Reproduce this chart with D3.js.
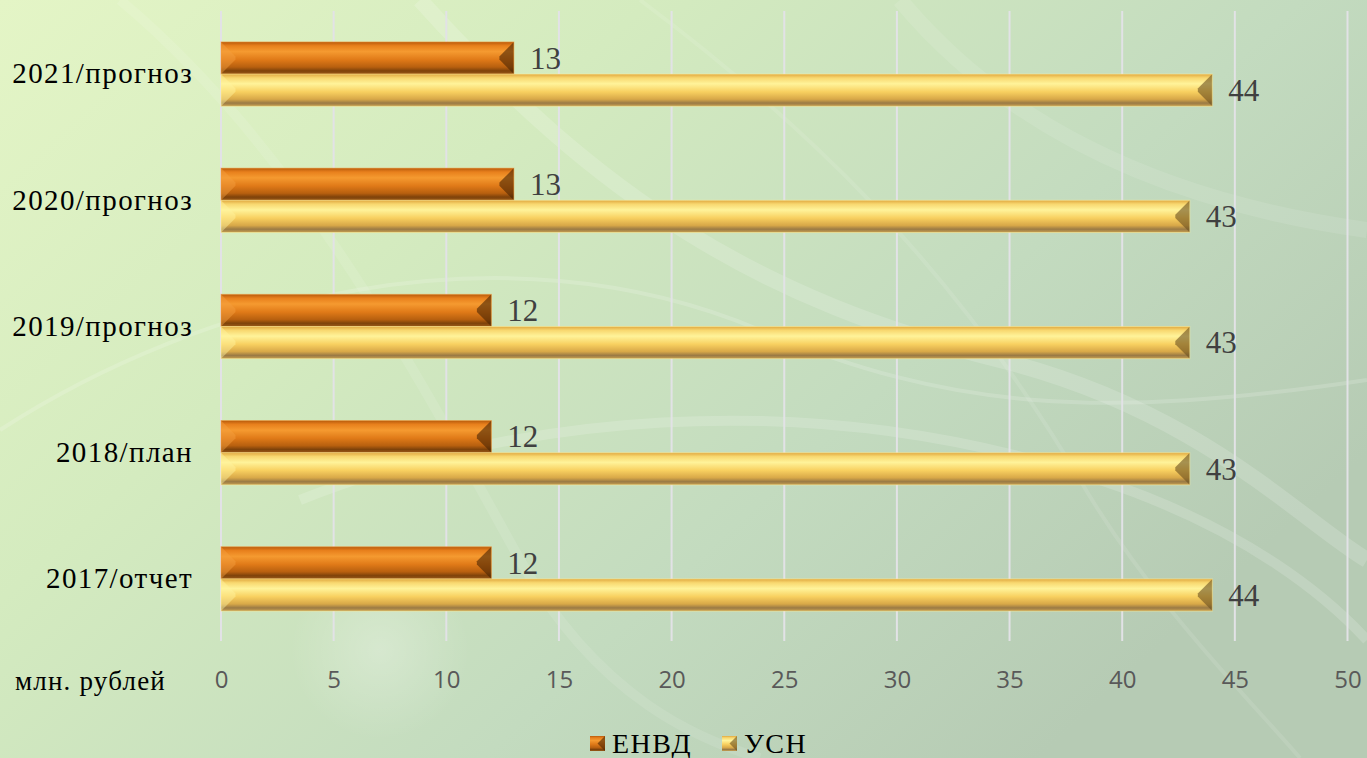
<!DOCTYPE html>
<html>
<head>
<meta charset="utf-8">
<script src="https://cdn.jsdelivr.net/npm/d3@7"></script>
<style>
  body { margin: 0; overflow: hidden; }
  svg { display: block; }
</style>
</head>
<body>
<div id="chart"></div>
<script>
// data
const categories = ["2017/отчет", "2018/план", "2019/прогноз", "2020/прогноз", "2021/прогноз"];
const seriesNames = ["ЕНВД", "УСН"];
const envd = [12, 12, 12, 13, 13];
const usn = [44, 43, 43, 43, 44];
const xTicks = [0, 5, 10, 15, 20, 25, 30, 35, 40, 45, 50];
const unitLabel = "млн. рублей";

const W = 1367, H = 758;
const margin = {top: 11, right: 20, bottom: 117, left: 221};
const SERIF = "'Liberation Serif', 'Times New Roman', Tinos, 'DejaVu Serif', 'Noto Serif', FreeSerif, serif";

const svg = d3.select("#chart").append("svg")
  .attr("width", W)
  .attr("height", H);

const defs = svg.append("defs");

//background
let bg = defs.append("linearGradient").attr("id", "bg")
  .attr("x1", "0").attr("y1", "0").attr("x2", "1").attr("y2", "0.6");
bg.append("stop").attr("offset", "0").attr("stop-color", "#e4f5c6");
bg.append("stop").attr("offset", "0.35").attr("stop-color", "#d4ebbf");
bg.append("stop").attr("offset", "0.7").attr("stop-color", "#c3dbbf");
bg.append("stop").attr("offset", "1").attr("stop-color", "#b6cbb4");

let glow = defs.append("radialGradient").attr("id", "glowSpot");
glow.append("stop").attr("offset", "0").attr("stop-color", "#ffffff").attr("stop-opacity", 0.25);
glow.append("stop").attr("offset", "1").attr("stop-color", "#ffffff").attr("stop-opacity", 0);

// bar gradients (vertical shading for the bevelled look)
function barGradient(id, stops) {
  let g = defs.append("linearGradient").attr("id", id)
    .attr("x1", 0).attr("y1", 0).attr("x2", 0).attr("y2", 1);
  stops.forEach(s => g.append("stop").attr("offset", s[0]).attr("stop-color", s[1]));
}
barGradient("gEnvd", [[0, "#b85a0c"], [0.12, "#e8801c"], [0.3, "#f59a30"], [0.55, "#e07a18"], [0.78, "#b8600f"], [0.9, "#7e420a"], [1, "#9a5a18"]]);
barGradient("gUsn", [[0, "#e0a840"], [0.12, "#f8d870"], [0.3, "#fff39a"], [0.55, "#f8d060"], [0.78, "#d8a848"], [0.9, "#9a7a45"], [1, "#c8a050"]]);

svg.append("rect").attr("width", W).attr("height", H).attr("fill", "url(#bg)");
svg.append("circle").attr("cx", 380).attr("cy", 650).attr("r", 90).attr("fill", "url(#glowSpot)");

// decorative swirls in the background
const swirls = [
  "M 0 430 C 200 300 500 220 760 330 C 950 410 1100 420 1367 380",
  "M 120 0 C 300 150 420 380 520 560 C 600 700 700 740 760 758",
  "M 420 0 C 600 200 760 300 1000 360 C 1200 410 1300 520 1367 560",
  "M 640 0 C 800 120 950 260 1080 480 C 1150 600 1250 700 1300 758",
  "M 300 500 C 500 420 800 380 1100 480 C 1250 530 1330 600 1367 640",
  "M 900 0 C 1000 120 1150 200 1367 230"
];
svg.append("g").selectAll("path")
  .data(swirls)
  .enter().append("path")
  .attr("d", d => d)
  .attr("fill", "none")
  .attr("stroke", "#ffffff")
  .attr("stroke-opacity", (d, i) => i % 2 ? 0.1 : 0.16)
  .attr("stroke-width", (d, i) => 4 + (i % 3) * 6);

const x = d3.scaleLinear().domain([0, 50]).range([0, 1126.5]);
const y = d3.scaleBand().domain(categories.slice().reverse()).range([0, 631]).paddingInner(0.49).paddingOuter(0.245);
const ySub = d3.scaleBand().domain(seriesNames).range([0, y.bandwidth()]);

const g = svg.append("g").attr("transform", "translate(" + margin.left + "," + margin.top + ")");

// gridlines
g.append("g").selectAll("line")
  .data(xTicks)
  .enter().append("line")
  .attr("x1", d => x(d)).attr("x2", d => x(d))
  .attr("y1", 0).attr("y2", 630)
  .attr("stroke", "#e2e2e6")
  .attr("stroke-width", 2);

// x axis tick labels
const xAxis = g.append("g")
  .attr("transform", "translate(0,660)")
  .call(d3.axisBottom(x).tickValues(xTicks).tickSize(0).tickPadding(0));
xAxis.select(".domain").remove();
xAxis.selectAll("text")
  .attr("fill", "#595959")
  .style("font-family", "'Open Sans', sans-serif")
  .style("font-size", "24px");

svg.append("text")
  .attr("x", 15).attr("y", 690)
  .style("font-family", SERIF)
  .style("font-size", "27px")
  .style("letter-spacing", "1.2px")
  .attr("fill", "#000")
  .text(unitLabel);

// category labels
const yAxis = g.append("g")
  .call(d3.axisLeft(y).tickSize(0).tickPadding(28));
yAxis.select(".domain").remove();
yAxis.selectAll("text")
  .attr("fill", "#000")
  .style("font-family", SERIF)
  .style("font-size", "29px")
  .style("letter-spacing", "1.4px");

const rows = categories.map((c, i) => ({cat: c, values: [
  {name: seriesNames[0], value: envd[i], fill: "url(#gEnvd)", light: "#f5a040", dark: "#4a2404"},
  {name: seriesNames[1], value: usn[i], fill: "url(#gUsn)", light: "#fff3a0", dark: "#6a5020"}
]}));

const bw = ySub.bandwidth();
const bev = bw * 0.45;

const barG = g.selectAll(".cat")
  .data(rows)
  .enter().append("g")
  .attr("class", "cat")
  .attr("transform", d => "translate(0," + y(d.cat) + ")");

const bar = barG.selectAll(".bar")
  .data(d => d.values)
  .enter().append("g")
  .attr("class", "bar")
  .attr("transform", d => "translate(0," + ySub(d.name) + ")");

bar.append("rect")
  .attr("x", 0).attr("y", 0)
  .attr("width", d => x(d.value))
  .attr("height", bw)
  .attr("fill", d => d.fill);

// left bevel
bar.append("path")
  .attr("d", "M0,0 L" + bev + "," + bev + " L" + bev + "," + (bw - bev) + " L0," + bw + "Z")
  .attr("fill", d => d.light)
  .attr("opacity", 0.45);

// right bevel (darker)
bar.append("path")
  .attr("d", d => {
    let e = x(d.value);
    return "M" + e + ",0 L" + (e - bev) + "," + bev + " L" + (e - bev) + "," + (bw - bev) + " L" + e + "," + bw + "Z";
  })
  .attr("fill", d => d.dark)
  .attr("opacity", 0.6);

bar.append("rect")
  .attr("x", 0).attr("y", 0)
  .attr("width", d => x(d.value))
  .attr("height", bw)
  .attr("fill", "none")
  .attr("stroke", d => d.light)
  .attr("stroke-opacity", 0.5)
  .attr("stroke-width", 1);

// value labels
bar.append("text")
  .attr("x", d => x(d.value) + 16)
  .attr("y", bw / 2)
  .attr("dy", "0.35em")
  .attr("fill", "#404040")
  .style("font-family", SERIF)
  .style("font-size", "31px")
  .text(d => d.value);

// legend
const legend = svg.append("g").attr("transform", "translate(0,753)");
const legItems = [
  {name: seriesNames[0], fill: "url(#gEnvd)", dark: "#4a2404"},
  {name: seriesNames[1], fill: "url(#gUsn)", dark: "#6a5020"}
];
const legX = [590, 722];
const li = legend.selectAll(".leg")
  .data(legItems)
  .enter().append("g")
  .attr("transform", (d, i) => "translate(" + legX[i] + ",0)");
li.append("rect")
  .attr("x", 0).attr("y", -17)
  .attr("width", 15).attr("height", 15)
  .attr("fill", d => d.fill);
li.append("path")
  .attr("d", "M15,-17 L7.5,-9.5 L15,-2 Z")
  .attr("fill", d => d.dark)
  .attr("opacity", 0.6);
li.append("text")
  .attr("x", 22).attr("y", 0)
  .attr("fill", "#000")
  .style("font-family", SERIF)
  .style("font-size", "28px")
  .style("letter-spacing", "1.5px")
  .text(d => d.name);
</script>
</body>
</html>
